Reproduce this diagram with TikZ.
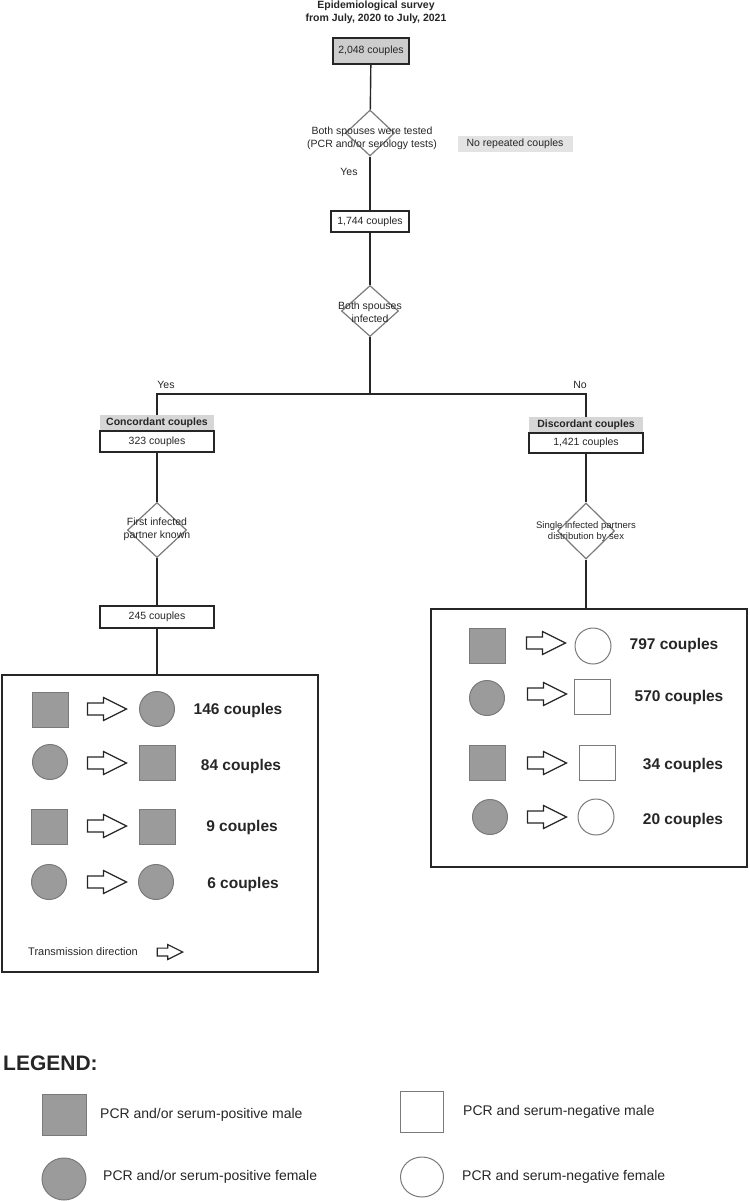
\documentclass[tikz,border=0pt]{standalone}
\usepackage{fontspec}
\setmainfont{Liberation Sans}
\usetikzlibrary{shapes.geometric}
\definecolor{symgray}{HTML}{9B9B9B}
\definecolor{symedge}{HTML}{7A7A7A}
\definecolor{hdgray}{HTML}{D6D6D6}
\definecolor{boxgray}{HTML}{CDCDCD}
\definecolor{inkline}{HTML}{262626}

\begin{document}
\begin{tikzpicture}[
      x=1pt, y=-1pt,
      every node/.style={align=center, text=inkline, font=\fontsize{10.5}{13}\selectfont},
      box/.style={draw=inkline, line width=1.6pt, minimum width=114pt, minimum height=21pt, inner sep=0pt},
      header/.style={fill=hdgray, minimum width=114pt, minimum height=15pt, inner sep=0pt, font=\fontsize{10.5}{13}\selectfont\bfseries},
      decision/.style={diamond, draw=symedge, line width=1.2pt, inner sep=0pt},
      bigbox/.style={draw=inkline, line width=1.4pt, inner sep=0pt},
      link/.style={draw=inkline, line width=1.4pt},
      posmale/.style={rectangle, draw=symedge, fill=symgray, line width=1pt, minimum width=36pt, minimum height=35pt, inner sep=0pt},
      posfemale/.style={ellipse, draw=symedge, fill=symgray, line width=1pt, minimum width=35pt, minimum height=35pt, inner sep=0pt},
      negmale/.style={rectangle, draw=symedge, fill=white, line width=1pt, minimum width=36pt, minimum height=35pt, inner sep=0pt},
      negfemale/.style={ellipse, draw=symedge, fill=white, line width=1pt, minimum width=36pt, minimum height=36pt, inner sep=0pt},
      tally/.style={font=\fontsize{15.5}{18}\selectfont\bfseries},
      legtext/.style={anchor=west, inner sep=0pt, font=\fontsize{14}{16}\selectfont},
      txarrow/.pic={
        \draw[inkline, line width=1.2pt, fill=white, line join=miter]
          (-19.5,-6) -- (-3.5,-6) -- (-3.5,-11.5) -- (19.5,0) -- (-3.5,11.5) -- (-3.5,6) -- (-19.5,6) -- cycle;
      }
    ]
\useasboundingbox (0,0) rectangle (749,1201);

% Nodes
\node[font=\fontsize{10.5}{13.5}\selectfont\bfseries, inner sep=0pt] (title) at (376,12.5)
  {Epidemiological survey\\from July, 2020 to July, 2021};
\node[box, fill=boxgray, minimum width=76pt, minimum height=26pt] (n2048) at (371,51) {2,048 couples};
\node[decision, minimum width=49pt, minimum height=46pt] (tested) at (370,133) {};
\node (testedtxt) at (372,138) {Both spouses were tested\\(PCR and/or serology tests)};
\node[fill=gray!22, minimum width=115pt, minimum height=16pt, inner sep=0pt] (norep) at (515,144) {No repeated couples};
\node (yestop) at (349,172) {Yes};
\node[box, minimum width=78pt] (n1744) at (370,221.5) {1,744 couples};
\node[decision, minimum width=57pt, minimum height=51pt] (infected) at (370,311) {};
\node (infectedtxt) at (370,312.5) {Both spouses\\infected};
\coordinate (split) at (370,394);
\node (yesleft) at (166,385) {Yes};
\node (noright) at (580,385) {No};

% Concordant branch
\node[box] (n323) at (157,441.5) {323 couples};
\node[header, anchor=south] (conchd) at (n323.north) {Concordant couples};
\node[decision, minimum width=59pt, minimum height=55pt] (firstinf) at (157,530) {};
\node (firstinftxt) at (157,529) {First infected\\partner known};
\node[box, minimum height=22pt] (n245) at (157,617) {245 couples};
\node[bigbox, minimum width=316pt, minimum height=297pt] (lbox) at (160,823.5) {};

\node[posmale] (l1a) at (50,710) {};
\pic at (107,709) {txarrow};
\node[posfemale] (l1b) at (157,709) {};
\node[tally] (l1c) at (238,710) {146 couples};
\node[posfemale] (l2a) at (50,762) {};
\pic at (107,763) {txarrow};
\node[posmale] (l2b) at (157,763) {};
\node[tally] (l2c) at (241,766) {84 couples};
\node[posmale] (l3a) at (49,827) {};
\pic at (107,826) {txarrow};
\node[posmale] (l3b) at (157,827) {};
\node[tally] (l3c) at (242,827) {9 couples};
\node[posfemale] (l4a) at (49,882) {};
\pic at (107,882) {txarrow};
\node[posfemale] (l4b) at (156,882) {};
\node[tally] (l4c) at (243,884) {6 couples};
\node[font=\fontsize{11}{13}\selectfont, anchor=west, inner sep=0pt] (txdir) at (28,952) {Transmission direction};
\pic[scale=0.65] at (170,952) {txarrow};

% Discordant branch
\node[box, minimum height=20pt] (n1421) at (586,443) {1,421 couples};
\node[header, anchor=south] (dischd) at (n1421.north) {Discordant couples};
\node[decision, minimum width=57pt, minimum height=56pt] (single) at (586,531) {};
\node[font=\fontsize{9.5}{11}\selectfont] (singletxt) at (586,532) {Single infected partners\\distribution by sex};
\node[bigbox, minimum width=316pt, minimum height=258pt] (rbox) at (589,738) {};

\node[posmale] (r1a) at (487,646) {};
\pic at (546,643) {txarrow};
\node[negfemale] (r1b) at (593,646) {};
\node[tally] (r1c) at (674,645) {797 couples};
\node[posfemale] (r2a) at (487,698) {};
\pic at (547,694) {txarrow};
\node[negmale] (r2b) at (592,697) {};
\node[tally] (r2c) at (679,697) {570 couples};
\node[posmale] (r3a) at (487,763) {};
\pic at (547,763) {txarrow};
\node[negmale] (r3b) at (597,763) {};
\node[tally] (r3c) at (683,765) {34 couples};
\node[posfemale] (r4a) at (490,817) {};
\pic at (547,817) {txarrow};
\node[negfemale] (r4b) at (596,817) {};
\node[tally] (r4c) at (683,820) {20 couples};

% Legend
\node[font=\fontsize{21}{24}\selectfont\bfseries, anchor=west, inner sep=0pt] (legend) at (3,1063) {LEGEND:};
\node[posmale, minimum width=44pt, minimum height=41pt] (kposm) at (64,1115) {};
\node[legtext] (kposmtxt) at (100,1115) {PCR and/or serum-positive male};
\node[posfemale, minimum width=44pt, minimum height=42pt] (kposf) at (64,1179) {};
\node[legtext] (kposftxt) at (103,1177) {PCR and/or serum-positive female};
\node[negmale, minimum width=43pt, minimum height=41pt] (knegm) at (422,1112) {};
\node[legtext] (knegmtxt) at (463,1112) {PCR and serum-negative male};
\node[negfemale, minimum width=43pt, minimum height=40pt] (knegf) at (422,1177) {};
\node[legtext] (knegftxt) at (462,1177) {PCR and serum-negative female};

% Connections
\draw[link] (n2048) -- (tested);
\draw[link] (tested) -- (n1744);
\draw[link] (n1744) -- (infected);
\draw[link] (infected) -- (split);
\draw[link] (conchd.north) |- (split) -| (dischd.north);
\draw[link] (n323) -- (firstinf);
\draw[link] (firstinf) -- (n245);
\draw[link] (n245) -- (n245 |- lbox.north);
\draw[link] (n1421) -- (single);
\draw[link] (single) -- (single |- rbox.north);

\end{tikzpicture}
\end{document}
